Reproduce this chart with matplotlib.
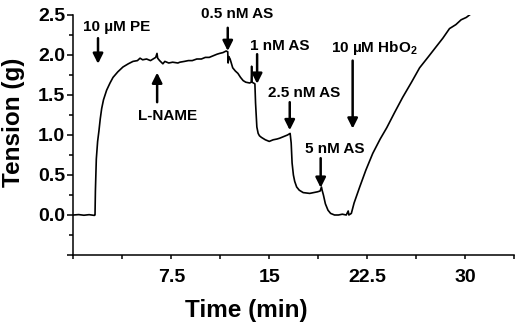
import matplotlib
matplotlib.use("Agg")
import matplotlib.pyplot as plt
from matplotlib.ticker import MultipleLocator, FuncFormatter

plt.rcParams['font.family'] = ['Liberation Sans', 'DejaVu Sans']
plt.rcParams['font.weight'] = 'bold'
plt.rcParams['mathtext.fontset'] = 'custom'
plt.rcParams['mathtext.rm'] = 'Liberation Sans:bold'
plt.rcParams['mathtext.bf'] = 'Liberation Sans:bold'

# tension trace (min, g)
time_min = [0.0, 0.4, 0.8, 1.2, 1.6, 1.65, 1.68, 1.75, 1.85, 1.95, 2.05, 2.16, 2.3,
            2.54, 2.8, 3.03, 3.4, 3.79, 4.2, 4.56, 4.9, 5.1, 5.3, 5.6, 5.9, 6.1,
            6.3, 6.4, 6.45, 6.6, 6.85, 7.0, 7.3, 7.6, 8.0, 8.15, 8.5, 8.8, 9.1,
            9.45, 9.8, 10.1, 10.4, 10.7, 11.0, 11.2, 11.45, 11.7, 11.82, 11.85,
            11.9, 12.0, 12.2, 12.4, 12.6, 12.8, 13.0, 13.2, 13.5, 13.62, 13.65,
            13.68, 13.9, 13.95, 14.05, 14.15, 14.25, 14.4, 14.7, 15.0, 15.3, 15.6,
            15.8, 16.1, 16.4, 16.6, 16.68, 16.75, 16.85, 16.95, 17.1, 17.3, 17.6,
            18.1, 18.4, 18.7, 18.9, 19.0, 19.05, 19.15, 19.3, 19.5, 19.7, 20.0,
            20.3, 20.6, 20.9, 21.05, 21.1, 21.29, 21.5, 21.93, 22.4, 22.93, 23.5,
            24.0, 24.6, 25.22, 25.9, 26.52, 27.2, 27.82, 28.3, 28.81, 29.3, 29.7,
            30.1, 30.5]
tension_g = [0.0, 0.005, -0.003, 0.004, -0.005, 0.0, 0.3, 0.7, 0.92, 1.05, 1.2, 1.33,
             1.44, 1.56, 1.65, 1.72, 1.79, 1.85, 1.89, 1.92, 1.93, 1.96, 1.94, 1.95,
             1.93, 1.95, 1.97, 2.02, 1.96, 1.93, 1.89, 1.92, 1.90, 1.91, 1.90, 1.91,
             1.92, 1.93, 1.93, 1.95, 1.95, 1.97, 1.97, 1.99, 2.01, 2.02, 2.03, 2.05,
             2.04, 1.90, 1.98, 1.95, 1.84, 1.80, 1.77, 1.72, 1.68, 1.66, 1.65, 1.66,
             1.86, 1.66, 1.64, 1.40, 1.10, 1.02, 0.99, 0.97, 0.94, 0.92, 0.94, 0.95,
             0.96, 0.98, 1.00, 1.02, 0.90, 0.65, 0.50, 0.42, 0.35, 0.31, 0.28, 0.27,
             0.28, 0.29, 0.30, 0.35, 0.31, 0.25, 0.14, 0.06, 0.02, 0.0, 0.0, 0.01,
             0.0, 0.05, 0.0, 0.02, 0.15, 0.35, 0.56, 0.77, 0.95, 1.09, 1.28, 1.47,
             1.66, 1.84, 1.98, 2.11, 2.21, 2.33, 2.38, 2.44, 2.47, 2.52]

# drug additions: label, arrow x, arrow tail y, arrow head y, label x, label y
labels = ["10 µM PE", "L-NAME", "0.5 nM AS", "1 nM AS", "2.5 nM AS", "5 nM AS",
          r"10 µM HbO$_2$"]
arrow_x = [1.88, 6.41, 11.82, 14.07, 16.57, 18.94, 21.39]
arrow_from = [2.21, 1.41, 2.34, 2.01, 1.41, 0.71, 1.93]
arrow_to = [1.89, 1.78, 2.05, 1.64, 1.06, 0.34, 1.08]
label_x = [3.33, 7.24, 12.51, 15.8, 17.71, 20.0, 23.06]
label_y = [2.35, 1.24, 2.51, 2.11, 1.52, 0.83, 2.09]

fig = plt.figure(figsize=(5.2, 3.26), dpi=100)
ax = fig.add_axes([0.1413, 0.2178, 0.8471, 0.7362])

ax.plot(time_min, tension_g, color='black', lw=1.2)

for i in range(len(labels)):
    ax.annotate("", xy=(arrow_x[i], arrow_to[i]), xytext=(arrow_x[i], arrow_from[i]),
                arrowprops=dict(arrowstyle='-|>', color='black', lw=1.8,
                                mutation_scale=15, shrinkA=0, shrinkB=0))
    ax.text(label_x[i], label_y[i], labels[i], ha='center', va='center',
            fontsize=11, fontweight='bold')

ax.set_xlim(0, 33.75)
ax.set_ylim(-0.5, 2.5)
ax.xaxis.set_major_locator(MultipleLocator(3.75))
ax.xaxis.set_major_formatter(FuncFormatter(
    lambda v, p: ("%g" % v) if v > 0 and abs(v / 7.5 - round(v / 7.5)) < 1e-6 else ""))
ax.yaxis.set_major_locator(MultipleLocator(0.5))
ax.yaxis.set_minor_locator(MultipleLocator(0.25))
ax.yaxis.set_major_formatter(FuncFormatter(lambda v, p: "%.1f" % v if v >= 0 else ""))

for s in ['top', 'right']:
    ax.spines[s].set_visible(False)
for s in ['left', 'bottom']:
    ax.spines[s].set_linewidth(1.1)

ax.tick_params(axis='x', length=3, width=1.1, pad=7, labelsize=14)
ax.tick_params(axis='y', which='major', length=4, width=1.1, pad=2, labelsize=14)
ax.tick_params(axis='y', which='minor', length=3, width=1.1)

ax.set_xlabel("Time (min)", fontsize=17.5, fontweight='bold')
ax.xaxis.set_label_coords(0.392, -0.185)
ax.set_ylabel("Tension (g)", fontsize=17.5, fontweight='bold')
ax.yaxis.set_label_coords(-0.11, 0.554)

fig.savefig("out.png", dpi=100)
